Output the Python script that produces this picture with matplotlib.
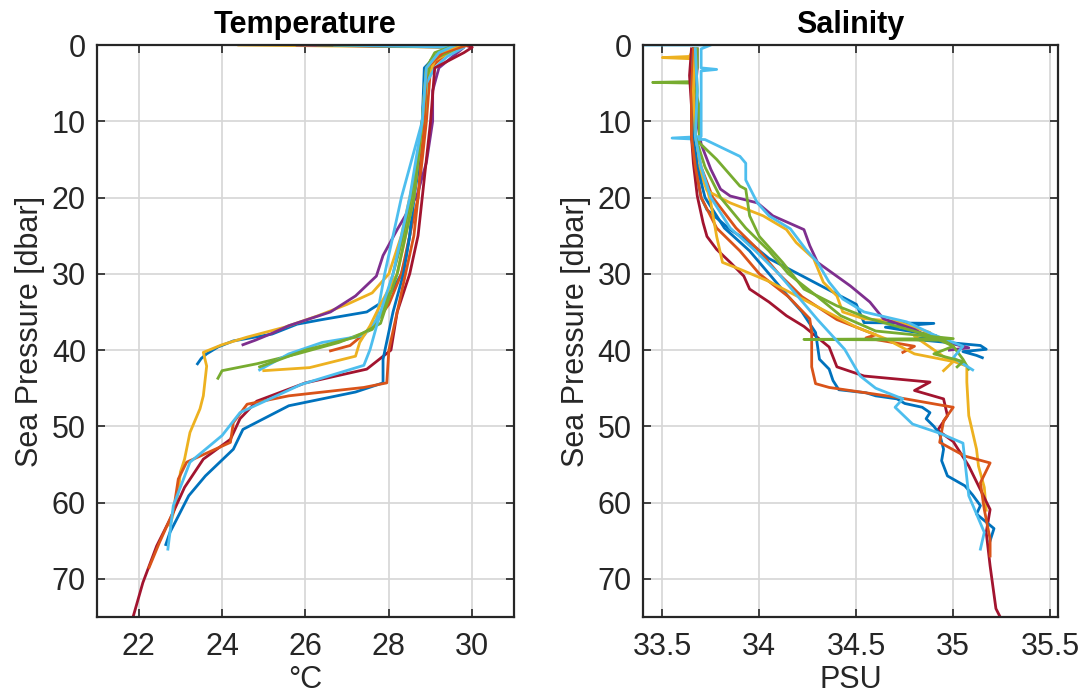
import matplotlib.pyplot as plt

# ====== COLORES (orden por defecto de MATLAB) ======
blue = '#0072BD'
orange = '#D95319'
yellow = '#EDB120'
purple = '#7E2F8E'
green = '#77AC30'
lightblue = '#4DBEEE'
darkred = '#A2142F'

# ====== TEMPERATURA (°C) vs PRESION (dbar) ======
temp_blue1 = [29.6, 29.3, 28.9, 28.85, 28.8, 28.75, 28.6, 28.5, 28.4, 28.3, 28.1, 27.9, 27.47, 26.4, 25.8, 25.2, 24.27, 23.9, 23.63, 23.5, 23.41]
pres_blue1 = [0, 1, 3, 6, 10, 15, 20, 25, 28, 30, 32, 33.5, 35.0, 36.0, 36.6, 37.9, 38.8, 39.6, 40.5, 41.1, 41.8]

temp_orange1 = [29.8, 29.4, 29.0, 28.9, 28.7, 28.5, 28.3, 28.0, 27.6, 27.07, 26.6]
pres_orange1 = [0, 1, 3, 10, 20, 25, 30, 34, 37, 39.4, 40.1]

temp_yellow1 = [24.4, 29.7, 29.1, 28.9, 28.85, 28.7, 28.5, 28.3, 28.0, 27.6, 27.0, 26.3, 25.5, 24.6, 24.0, 23.55, 23.63, 23.55, 23.47, 23.23, 23.1, 23.0, 22.95, 22.85, 22.75]
pres_yellow1 = [0, 0.3, 2, 5, 10, 15, 20, 25, 30, 32.5, 34, 35.5, 37, 38.3, 39.3, 40.3, 42.1, 46, 47.7, 50.8, 54.3, 56, 58.6, 61, 63]

temp_purple = [25.8, 29.8, 29.2, 29.05, 29.05, 28.9, 28.67, 28.2, 27.86, 27.7, 27.2, 26.6, 25.6, 25.2, 24.8, 24.5]
pres_purple = [0, 0.3, 3, 6, 10, 15.4, 19.8, 24.2, 27.6, 30.3, 32.9, 35.0, 36.8, 37.8, 38.7, 39.3]

temp_green1 = [26.3, 29.7, 29.0, 28.9, 28.85, 28.7, 28.55, 28.35, 28.1, 27.95, 27.86, 27.6, 26.8, 25.8, 24.83, 24.0, 23.9]
pres_green1 = [0, 0.3, 2, 5, 10, 15, 20, 25, 30, 33, 35, 37.3, 39, 40.5, 41.8, 42.7, 43.7]

temp_lightblue1 = [26.7, 29.8, 29.4, 29.1, 28.9, 28.8, 28.55, 28.3, 28.1, 27.9, 27.8, 27.7, 27.4, 26.4, 25.6, 24.9]
pres_lightblue1 = [0, 0.3, 1.5, 3, 5, 10, 15, 20, 25, 30, 33, 36, 38.1, 39, 40.5, 42.6]

temp_darkred = [29.8, 30.0, 29.8, 29.1, 29.0, 28.8, 28.7, 28.5, 28.2, 28.05, 27.47, 26.0, 24.83, 24.43, 24.2, 23.55, 23.1, 22.75, 22.43, 22.1, 21.87]
pres_darkred = [0, 0.3, 1, 3, 10, 20, 25, 30, 35, 40, 42.5, 44.3, 46.7, 49, 51.7, 54.3, 58, 62.2, 65.7, 70.5, 74.9]

temp_blue2 = [29.7, 29.2, 28.85, 28.8, 28.6, 28.5, 28.35, 28.1, 27.86, 27.86, 27.2, 25.6, 24.5, 24.27, 23.6, 23.2, 22.75, 22.65]
pres_blue2 = [0, 1, 3, 10, 20, 25, 30, 35, 41.2, 44.3, 45.5, 47.3, 50.4, 53, 56.5, 59.1, 63.9, 65.5]

temp_orange2 = [29.9, 29.3, 28.9, 28.85, 28.7, 28.6, 28.4, 28.2, 28.0, 27.95, 27.4, 25.6, 24.6, 24.27, 24.2, 23.15, 22.95, 22.83, 22.5, 22.25]
pres_orange2 = [0, 1, 3, 10, 20, 25, 30, 35, 40, 44.3, 44.9, 46, 47.1, 49.5, 52.1, 54.7, 56.9, 61.2, 65.2, 68.5]

temp_yellow2 = [29.7, 29.2, 28.9, 28.8, 28.6, 28.4, 28.2, 27.8, 27.55, 27.3, 27.2, 26.1, 25.0]
pres_yellow2 = [0, 1, 3, 10, 20, 25, 30, 34, 36.8, 39, 40.8, 42.3, 42.7]

temp_green2 = [29.6, 29.1, 28.9, 28.8, 28.6, 28.4, 28.2, 27.95, 27.8, 27.2, 26.0, 24.9]
pres_green2 = [0, 1, 3, 10, 20, 25, 30, 34, 36.5, 38.3, 40.0, 42.2]

temp_lightblue2 = [29.6, 29.2, 28.9, 28.8, 28.5, 28.3, 28.1, 27.8, 27.55, 27.4, 25.9, 24.43, 24.0, 23.23, 22.83, 22.7]
pres_lightblue2 = [0, 1, 3, 10, 20, 25, 30, 35, 39.9, 42, 44.5, 48.2, 51.2, 54.7, 60.4, 66.1]

# ====== SALINIDAD (PSU) vs PRESION (dbar) ======
sal_blue1 = [33.66, 33.65, 33.66, 33.65, 33.66, 33.67, 33.7, 33.73, 33.85, 33.95, 34.05, 34.2, 34.35, 34.5, 34.54, 34.9, 34.65, 34.91, 34.8, 35.14, 35.17, 35.05, 35.12, 35.15]
psal_blue1 = [0.5, 3, 6, 10, 13, 16, 20, 21.6, 24.2, 25.9, 28, 30, 32, 34, 36.4, 36.5, 37, 38.1, 38.6, 39.4, 39.9, 40.2, 40.7, 41]

sal_orange1 = [33.66, 33.65, 33.66, 33.66, 33.7, 33.76, 33.88, 34.0, 34.1, 34.22, 34.4, 34.6, 34.55, 34.8, 34.74]
psal_orange1 = [0.5, 4, 8, 12, 16, 20, 24, 27, 30, 33, 36, 38, 38.4, 39.5, 40.3]

sal_yellow1 = [33.66, 33.64, 33.5, 33.65, 33.66, 33.66, 33.68, 33.73, 33.85, 34.02, 34.14, 34.19, 34.28, 34.33, 34.4, 34.43, 34.54, 34.7, 34.88, 34.8, 34.97, 35.07, 35.07, 35.08, 35.12, 35.13, 35.16, 35.17]
psal_yellow1 = [0.5, 1.5, 1.65, 1.8, 6, 10, 15.6, 19.1, 20.7, 22.4, 24.2, 25.9, 28, 31.1, 32.9, 35, 35.9, 36.2, 37.7, 38.2, 41.2, 42.1, 44.2, 48.6, 53, 55.2, 58, 61]

sal_purple = [33.68, 33.68, 33.67, 33.68, 33.7, 33.75, 33.8, 33.85, 33.99, 34.07, 34.23, 34.26, 34.3, 34.47, 34.57, 34.64, 34.8, 34.85, 34.97, 35.08, 34.98]
psal_purple = [0.5, 3, 6, 10, 13, 16.3, 18.9, 19.8, 20.7, 22.4, 24.2, 26.3, 28.5, 31.6, 33.7, 35.9, 37.3, 38, 39, 39.7, 40]

sal_green1 = [33.68, 33.68, 33.66, 33.45, 33.66, 33.69, 33.69, 33.69, 33.78, 33.9, 33.93, 33.95, 34.0, 34.12, 34.23, 34.4, 34.57, 34.88, 35.0, 35.05, 35.08]
psal_green1 = [0.5, 3, 4.8, 4.9, 5.0, 8, 10, 12.8, 15, 18.5, 18.9, 22.4, 25.1, 28.5, 32, 34.2, 35.9, 38.1, 39.5, 41.2, 42.5]

sal_lightblue1 = [33.4, 33.75, 33.7, 33.7, 33.78, 33.7, 33.7, 33.7, 33.55, 33.72, 33.9, 33.93, 33.93, 33.99, 34.05, 34.16, 34.24, 34.3, 34.36, 34.43, 34.54, 34.76, 34.9, 35.05, 35.0, 35.1]
psal_lightblue1 = [0, 0, 0.5, 3, 3.2, 3.4, 6, 12.0, 12.2, 12.4, 14.6, 15.5, 17.7, 20.7, 22.4, 24.1, 26.8, 28.5, 31.1, 33.3, 35, 36.3, 38, 39.5, 41, 42.6]

sal_darkred = [33.65, 33.64, 33.65, 33.65, 33.66, 33.68, 33.71, 33.73, 33.78, 33.85, 33.92, 33.95, 34.05, 34.14, 34.23, 34.36, 34.4, 34.54, 34.71, 34.88, 34.8, 34.95, 34.97, 34.92, 35.0, 35.08, 35.19, 35.17, 35.19, 35.22, 35.24]
psal_darkred = [0.5, 4, 8, 12, 15.5, 19.8, 23.3, 25.1, 26.8, 28.5, 30.3, 32, 33.7, 35.5, 36.9, 39.6, 42.2, 43.4, 43.8, 44.2, 45.3, 46.4, 48.6, 50.5, 52, 55.2, 60.9, 63.9, 68.3, 73.9, 74.9]

sal_blue2 = [33.66, 33.65, 33.66, 33.68, 33.72, 33.82, 33.95, 34.05, 34.15, 34.22, 34.29, 34.31, 34.36, 34.38, 34.41, 34.55, 34.6, 34.71, 34.75, 34.84, 34.88, 34.86, 34.9, 34.93, 34.95, 34.94, 34.97, 35.06, 35.1, 35.14, 35.12, 35.21, 35.19]
psal_blue2 = [0.5, 6, 12, 16, 20, 24, 27, 30, 33, 35, 37.7, 41.2, 42.5, 44.0, 45.2, 45.6, 46.0, 46.4, 47.0, 47.5, 48.2, 49.0, 50.0, 51.0, 53, 54.5, 56.5, 57.8, 59, 60.4, 61.5, 63.4, 65]

sal_orange2 = [33.66, 33.65, 33.65, 33.67, 33.7, 33.78, 33.9, 34.0, 34.15, 34.26, 34.27, 34.27, 34.29, 34.36, 34.71, 35.0, 34.95, 34.93, 35.06, 35.19, 35.14, 35.16, 35.19, 35.19]
psal_orange2 = [0.5, 6, 12, 16, 20, 24, 27, 30, 33, 35.9, 37.7, 42.2, 44.4, 44.9, 46.2, 47.5, 49.3, 52.1, 53.9, 54.8, 57.4, 60.9, 64.8, 67]

sal_yellow2 = [33.67, 33.66, 33.67, 33.7, 33.75, 33.78, 33.81, 33.9, 34.05, 34.2, 34.35, 34.5, 34.65, 34.8, 35.0, 34.95]
psal_yellow2 = [0.5, 6, 12, 16, 20.7, 25.1, 28.5, 29.4, 31, 33, 35, 37, 38.5, 40.5, 41.5, 42.7]

sal_green2 = [33.67, 33.68, 33.67, 33.72, 33.8, 33.93, 34.05, 34.15, 34.3, 34.42, 34.6, 35.0, 34.23, 34.95, 35.0, 34.9, 35.05, 35.02]
psal_green2 = [0.5, 6, 12, 16, 20, 24, 27, 30, 33, 35.5, 37.5, 38.5, 38.6, 38.7, 39.5, 40.5, 41.5, 42.2]

sal_lightblue2 = [33.67, 33.68, 33.67, 33.7, 33.75, 33.85, 33.98, 34.1, 34.2, 34.3, 34.44, 34.52, 34.6, 34.74, 34.7, 34.79, 34.93, 35.05, 35.08, 35.16, 35.14]
psal_lightblue2 = [0.5, 6, 12, 16, 20, 24, 27, 30, 33, 36, 39.9, 43.4, 45.0, 46.4, 47.5, 49.7, 50.9, 52.2, 59.1, 63.9, 66.1]

temp_casts = [
    (temp_blue1, pres_blue1, blue), (temp_orange1, pres_orange1, orange),
    (temp_yellow1, pres_yellow1, yellow), (temp_purple, pres_purple, purple),
    (temp_green1, pres_green1, green), (temp_lightblue1, pres_lightblue1, lightblue),
    (temp_darkred, pres_darkred, darkred), (temp_blue2, pres_blue2, blue),
    (temp_orange2, pres_orange2, orange), (temp_yellow2, pres_yellow2, yellow),
    (temp_green2, pres_green2, green), (temp_lightblue2, pres_lightblue2, lightblue),
]
sal_casts = [
    (sal_blue1, psal_blue1, blue), (sal_orange1, psal_orange1, orange),
    (sal_yellow1, psal_yellow1, yellow), (sal_purple, psal_purple, purple),
    (sal_green1, psal_green1, green), (sal_lightblue1, psal_lightblue1, lightblue),
    (sal_darkred, psal_darkred, darkred), (sal_blue2, psal_blue2, blue),
    (sal_orange2, psal_orange2, orange), (sal_yellow2, psal_yellow2, yellow),
    (sal_green2, psal_green2, green), (sal_lightblue2, psal_lightblue2, lightblue),
]

# ====== GRAFICAR ======
plt.rcParams['font.family'] = ['Liberation Sans', 'DejaVu Sans']
fig = plt.figure(figsize=(10.85, 6.99), dpi=100)
ax_t = fig.add_axes([0.0894, 0.1173, 0.3843, 0.8183])
ax_s = fig.add_axes([0.5926, 0.1173, 0.3825, 0.8183])

for ax, casts in [(ax_t, temp_casts), (ax_s, sal_casts)]:
    for valores, presion, color in casts:
        ax.plot(valores, presion, color=color, lw=2.0, solid_joinstyle='round')
    ax.set_ylim(75, 0)
    ax.set_yticks(range(0, 80, 10))
    ax.grid(True, color='#d6d6d6', lw=1.2)
    ax.set_axisbelow(True)
    ax.tick_params(direction='in', length=6, width=1.2, color='#262626',
                   top=True, right=True, labelsize=22, labelcolor='#262626', pad=8)
    ax.tick_params(axis='x', pad=11)
    for s in ax.spines.values():
        s.set_linewidth(1.6)
        s.set_color('#262626')
    ax.set_ylabel('Sea Pressure [dbar]', fontsize=22, color='#262626', labelpad=5)

ax_t.set_xlim(21, 31)
ax_t.set_xticks([22, 24, 26, 28, 30])
ax_t.set_title('Temperature', fontsize=22, fontweight='bold', pad=9)
ax_t.set_xlabel('°C', fontsize=22, color='#262626', labelpad=2)

ax_s.set_xlim(33.4, 35.54)
ax_s.set_xticks([33.5, 34, 34.5, 35, 35.5])
ax_s.set_xticklabels(['33.5', '34', '34.5', '35', '35.5'])
ax_s.set_title('Salinity', fontsize=22, fontweight='bold', pad=9)
ax_s.set_xlabel('PSU', fontsize=22, color='#262626', labelpad=2)

fig.savefig('out.png', dpi=100)
